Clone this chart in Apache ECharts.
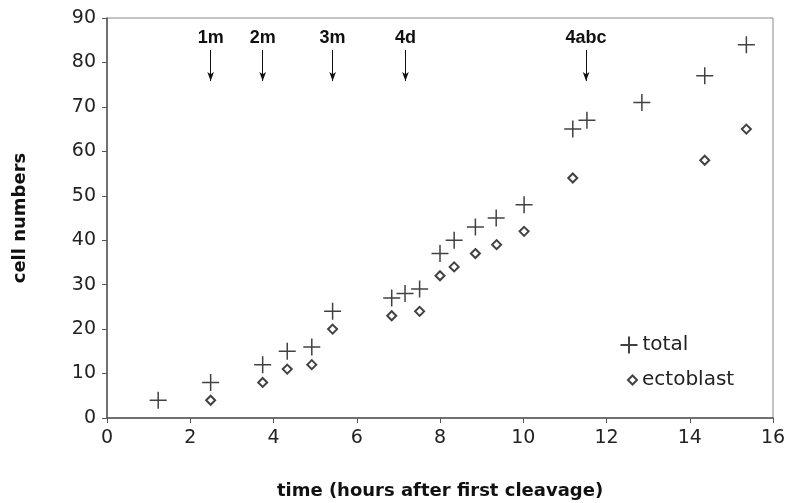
<!DOCTYPE html>
<html>
<head>
<meta charset="utf-8">
<script src="https://cdn.jsdelivr.net/npm/echarts@6/dist/echarts.min.js"></script>
<style>
  html, body { margin: 0; padding: 0; background: #fff; }
  #main { width: 790px; height: 503px; }
</style>
</head>
<body>
<div id="main"></div>
<script>
// time (hours) and cell counts
const totalTime = [1.23, 2.49, 3.74, 4.33, 4.92, 5.42, 6.84, 7.16, 7.51, 8.0, 8.34, 8.85, 9.35, 10.02, 11.19, 11.53, 12.85, 14.36, 15.36]
const totalCells = [4, 8, 12, 15, 16, 24, 27, 28, 29, 37, 40, 43, 45, 48, 65, 67, 71, 77, 84]
const ectoTime = [2.49, 3.74, 4.33, 4.92, 5.42, 6.84, 7.51, 8.0, 8.34, 8.85, 9.36, 10.02, 11.19, 14.36, 15.36]
const ectoCells = [4, 8, 11, 12, 20, 23, 24, 32, 34, 37, 39, 42, 54, 58, 65]

// cleavage markers (arrows)
const markerNames = ['1m', '2m', '3m', '4d', '4abc']
const markerTime = [2.49, 3.74, 5.42, 7.17, 11.51]

const font = 'DejaVu Sans'
const plusPath = 'path://M0,5L10,5M5,0L5,10'

let myChart = echarts.init(document.getElementById('main'))

let legendText = { fontFamily: font, fontSize: 20, color: '#222' }

let option = {
  animation: false,
  grid: {
    left: 107, right: 17, top: 18, bottom: 85,
    outerBoundsMode: 'none',
    show: true, borderColor: '#8a8a8a', borderWidth: 1
  },
  legend: [
    {
      left: 613, top: 329,
      itemWidth: 17, itemHeight: 17, itemGap: 4,
      textStyle: legendText,
      data: ['total']
    },
    {
      left: 622, top: 365,
      itemWidth: 9, itemHeight: 9, itemGap: 8,
      textStyle: legendText,
      data: ['ectoblast']
    }
  ],
  xAxis: {
    type: 'value',
    min: 0, max: 16, interval: 2,
    name: 'time (hours after first cleavage)',
    nameLocation: 'middle',
    nameGap: 64,
    nameTextStyle: { fontFamily: font, fontSize: 18, fontWeight: 'bold', color: '#111' },
    axisLine: { lineStyle: { color: '#555', width: 1.5 } },
    axisTick: { show: true, length: 5, inside: false, lineStyle: { color: '#555' } },
    axisLabel: { fontFamily: font, fontSize: 19, color: '#222', margin: 11 },
    splitLine: { show: false }
  },
  yAxis: {
    type: 'value',
    min: 0, max: 90, interval: 10,
    name: 'cell numbers',
    nameLocation: 'middle',
    nameGap: 78,
    nameTextStyle: { fontFamily: font, fontSize: 18, fontWeight: 'bold', color: '#111' },
    axisLine: { show: true, lineStyle: { color: '#555', width: 1.5 } },
    axisTick: { show: true, length: 5, lineStyle: { color: '#555' } },
    axisLabel: { fontFamily: font, fontSize: 19, color: '#222', margin: 11 },
    splitLine: { show: false }
  },
  series: [
    {
      name: 'total',
      type: 'scatter',
      symbol: plusPath,
      symbolSize: 17,
      itemStyle: { color: 'none', borderColor: '#111', borderWidth: 1.5 },
      data: totalTime.map((t, i) => [t, totalCells[i]]),
      markLine: {
        silent: true,
        symbol: ['none', 'arrow'],
        symbolSize: [5, 9],
        lineStyle: { color: '#111', width: 1, type: 'solid' },
        label: {
          show: true, position: 'start', distance: 3,
          fontFamily: 'Liberation Sans', fontSize: 18, fontWeight: 'bold', color: '#111',
          formatter: p => p.name
        },
        data: markerNames.map((n, i) => [
          { name: n, coord: [markerTime[i], 82.8] },
          { coord: [markerTime[i], 75.8] }
        ])
      }
    },
    {
      name: 'ectoblast',
      type: 'scatter',
      symbol: 'diamond',
      symbolSize: 9,
      itemStyle: { color: '#fff', borderColor: '#111', borderWidth: 2 },
      data: ectoTime.map((t, i) => [t, ectoCells[i]])
    }
  ]
}

myChart.setOption(option)
</script>
</body>
</html>
